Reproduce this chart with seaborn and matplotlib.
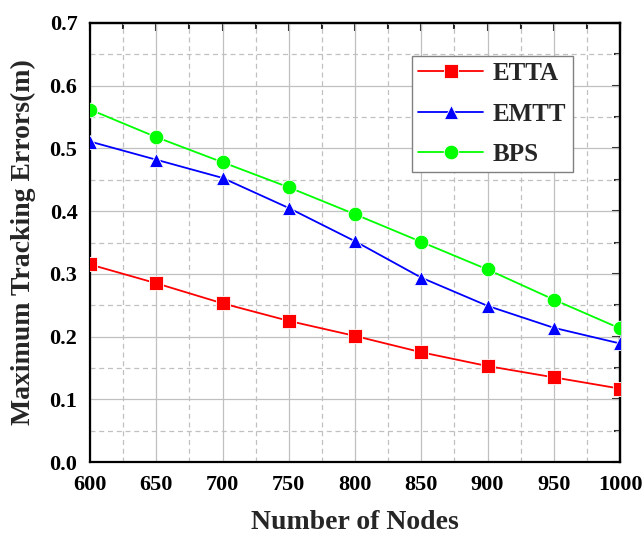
import matplotlib
matplotlib.use("Agg")
import matplotlib.pyplot as plt
import seaborn as sns
import pandas as pd
from matplotlib.ticker import MultipleLocator, FormatStrFormatter

nodes = [600, 650, 700, 750, 800, 850, 900, 950, 1000]
etta = [0.315, 0.285, 0.253, 0.225, 0.201, 0.175, 0.153, 0.135, 0.117]
emtt = [0.511, 0.482, 0.453, 0.405, 0.352, 0.294, 0.249, 0.214, 0.189]
bps = [0.562, 0.518, 0.478, 0.438, 0.395, 0.351, 0.307, 0.259, 0.213]
series_names = ["ETTA", "EMTT", "BPS"]

df = pd.DataFrame({
    "Nodes": nodes * 3,
    "Error": etta + emtt + bps,
    "Method": [n for n in series_names for _ in nodes],
})

sns.set_style("white")
plt.rcParams["font.family"] = ["Liberation Serif", "DejaVu Serif"]
plt.rcParams["font.weight"] = "bold"

fig = plt.figure(figsize=(6.44, 5.36), dpi=100)
ax = fig.add_axes([90 / 644, 1 - 462 / 536, 530 / 644, 439 / 536])

palette = {"ETTA": "#ff0000", "EMTT": "#0000ff", "BPS": "#00ff00"}
markers = {"ETTA": "s", "EMTT": "^", "BPS": "o"}
sns.lineplot(data=df, x="Nodes", y="Error", hue="Method", style="Method",
             palette=palette, markers=markers, dashes=False, ax=ax,
             linewidth=1.3, markersize=10.5, markeredgewidth=0.6,
             hue_order=series_names, style_order=series_names, zorder=3)

ax.set_xlim(600, 1000)
ax.set_ylim(0, 0.7)
ax.xaxis.set_major_locator(MultipleLocator(50))
ax.xaxis.set_minor_locator(MultipleLocator(25))
ax.yaxis.set_major_locator(MultipleLocator(0.1))
ax.yaxis.set_minor_locator(MultipleLocator(0.05))
ax.yaxis.set_major_formatter(FormatStrFormatter("%.1f"))

ax.grid(which="major", color="#c0c0c0", linestyle="-", linewidth=0.9, zorder=0)
ax.grid(which="minor", color="#c0c0c0", linestyle=(0, (4, 3)), linewidth=0.9, zorder=0)
ax.set_axisbelow(True)

for s in ax.spines.values():
    s.set_linewidth(1.6)
    s.set_color("black")

ax.tick_params(which="major", direction="out", length=6, width=1.5,
               labelsize=16, pad=3, colors="black")
ax.tick_params(which="minor", direction="out", length=4, width=1.5)
for lab in ax.get_xticklabels() + ax.get_yticklabels():
    lab.set_fontweight("bold")

# Inward ticks on top and right
sx = ax.secondary_xaxis("top")
sx.xaxis.set_major_locator(MultipleLocator(50))
sx.xaxis.set_minor_locator(MultipleLocator(25))
sx.tick_params(which="major", direction="in", length=6, width=1.5, labeltop=False)
sx.tick_params(which="minor", direction="in", length=4, width=1.5)
sx.spines["top"].set_linewidth(1.6)
sy = ax.secondary_yaxis("right")
sy.yaxis.set_major_locator(MultipleLocator(0.1))
sy.yaxis.set_minor_locator(MultipleLocator(0.05))
sy.tick_params(which="major", direction="in", length=6, width=1.5, labelright=False)
sy.tick_params(which="minor", direction="in", length=4, width=1.5)
sy.spines["right"].set_linewidth(1.6)

ax.set_xlabel("Number of Nodes", fontsize=20, fontweight="bold", labelpad=11)
ax.set_ylabel("Maximum Tracking Errors(m)", fontsize=20, fontweight="bold", labelpad=10)

leg = ax.legend(loc="upper right", bbox_to_anchor=(0.911, 0.925), borderaxespad=0,
                fancybox=False, edgecolor="#808080", framealpha=1,
                prop={"family": "Liberation Serif", "weight": "bold", "size": 18},
                handlelength=2.6, labelspacing=0.7, borderpad=0.25,
                handletextpad=0.4)
leg.get_frame().set_linewidth(1.0)

fig.savefig("out.png", dpi=100)
